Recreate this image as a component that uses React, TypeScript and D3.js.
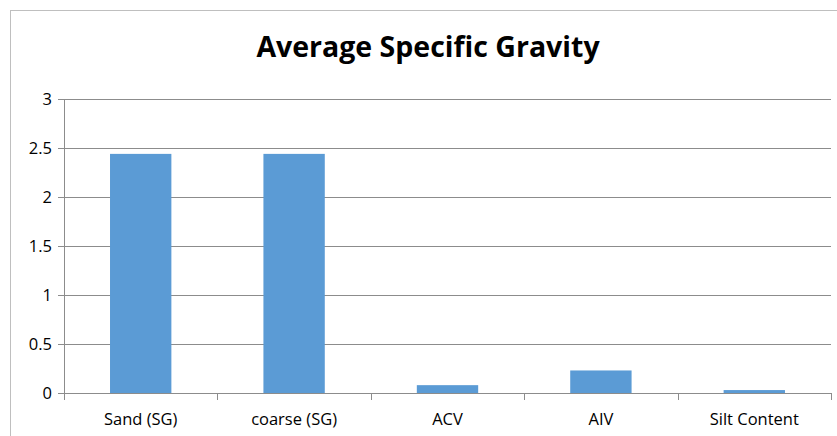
import React from "react";
import * as d3 from "d3";

const categories = ["Sand (SG)", "coarse (SG)", "ACV", "AIV", "Silt Content"];
const values = [2.44, 2.44, 0.08, 0.23, 0.03];
const yTicks = [0, 0.5, 1, 1.5, 2, 2.5, 3];
const title = "Average Specific Gravity";

const W = 837;
const H = 436;
const plot = { left: 64, right: 831, top: 99, bottom: 393 };
const FONT = "'Open Sans', Lato, sans-serif";

export default function App() {
  const x = d3
    .scaleBand<string>()
    .domain(categories)
    .range([plot.left, plot.right])
    .paddingInner(0.6)
    .paddingOuter(0.3);
  const y = d3.scaleLinear().domain([0, 3]).range([plot.bottom, plot.top]);
  const step = x.step();
  const tickXs = d3.range(categories.length + 1).map((i) => plot.left + i * step);

  return (
    <svg
      width={W}
      height={H}
      style={{ position: "absolute", left: 0, top: 0, background: "#fff" }}
    >
      <rect x={0} y={0} width={W} height={H} fill="#fff" />
      {/* chart frame */}
      <rect x={10.5} y={10.5} width={W + 10} height={H + 10} fill="none" stroke="#bfbfbf" strokeWidth={1} />

      <text
        x={428}
        y={57}
        textAnchor="middle"
        fontFamily={FONT}
        fontWeight="bold"
        fontSize={28.5}
        fill="#000"
      >
        {title}
      </text>

      {/* gridlines */}
      {yTicks.map((t) => (
        <line
          key={t}
          x1={plot.left - 6}
          x2={plot.right}
          y1={Math.round(y(t)) + 0.5}
          y2={Math.round(y(t)) + 0.5}
          stroke="#8c8c8c"
          strokeWidth={1}
        />
      ))}
      {/* value axis */}
      <line x1={plot.left + 0.5} x2={plot.left + 0.5} y1={plot.top} y2={plot.bottom} stroke="#8c8c8c" />
      {yTicks.map((t) => (
        <text
          key={"l" + t}
          x={52}
          y={y(t)}
          dy="0.35em"
          textAnchor="end"
          fontFamily={FONT}
          fontSize={16.5}
          fill="#000"
        >
          {t}
        </text>
      ))}

      {/* bars */}
      {categories.map((c, i) => (
        <rect
          key={c}
          x={x(c)}
          y={y(values[i])}
          width={x.bandwidth()}
          height={y(0) - y(values[i])}
          fill="#5b9bd5"
        />
      ))}

      {/* category axis */}
      <line x1={plot.left} x2={plot.right} y1={plot.bottom + 0.5} y2={plot.bottom + 0.5} stroke="#8c8c8c" />
      {tickXs.map((tx, i) => (
        <line
          key={"t" + i}
          x1={Math.round(tx) + 0.5}
          x2={Math.round(tx) + 0.5}
          y1={plot.bottom}
          y2={plot.bottom + 7}
          stroke="#8c8c8c"
        />
      ))}
      {categories.map((c) => (
        <text
          key={"c" + c}
          x={(x(c) as number) + x.bandwidth() / 2}
          y={425}
          textAnchor="middle"
          fontFamily={FONT}
          fontSize={16.5}
          fill="#000"
        >
          {c}
        </text>
      ))}
    </svg>
  );
}
